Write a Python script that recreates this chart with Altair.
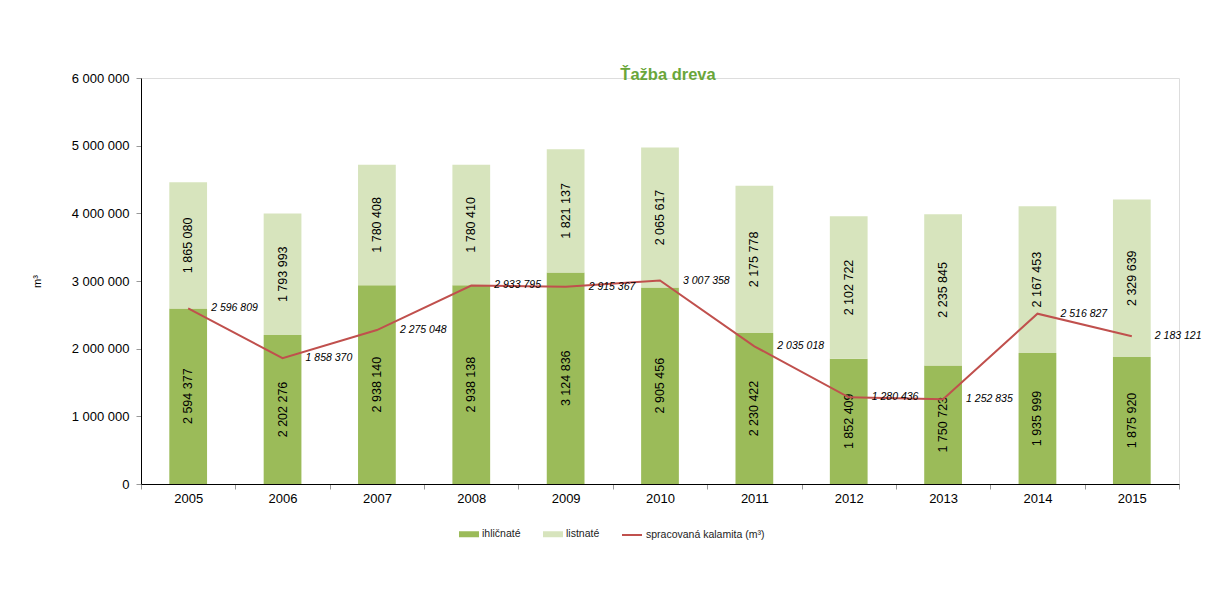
import altair as alt
import pandas as pd

years = ["2005", "2006", "2007", "2008", "2009", "2010", "2011", "2012", "2013", "2014", "2015"]
ihlicnate = [2594377, 2202276, 2938140, 2938138, 3124836, 2905456, 2230422, 1852409, 1750723, 1935999, 1875920]
listnate = [1865080, 1793993, 1780408, 1780410, 1821137, 2065617, 2175778, 2102722, 2235845, 2167453, 2329639]
kalamita = [2596809, 1858370, 2275048, 2933795, 2915367, 3007358, 2035018, 1280436, 1252835, 2516827, 2183121]

S_IHL = "ihličnaté"
S_LIST = "listnaté"
S_KAL = "spracovaná kalamita (m³)"

FONT = "Liberation Sans"

rows = []
for i, y in enumerate(years):
    rows.append({"year": y, "series": S_IHL, "value": ihlicnate[i], "order": 0})
    rows.append({"year": y, "series": S_LIST, "value": listnate[i], "order": 1})
bar_df = pd.DataFrame(rows)
line_df = pd.DataFrame({"year": years, "value": kalamita, "series": [S_KAL] * len(years)})

x_enc = alt.X(
    "year:O",
    title=None,
    scale=alt.Scale(paddingInner=0, paddingOuter=0),
    axis=alt.Axis(
        labelAngle=0, tickBand="extent", domainColor="black", tickColor="#999999",
        tickSize=5, labelPadding=3, labelFontSize=13, labelColor="black", labelFont=FONT,
    ),
)
y_scale = alt.Scale(domain=[0, 6000000], nice=False)

stacked = alt.Chart(bar_df).transform_stack(
    stack="value", groupby=["year"], as_=["v0", "v1"], sort=[alt.SortField("order")]
).transform_calculate(mid="(datum.v0 + datum.v1) / 2")

bars = stacked.mark_bar(width=alt.RelativeBandSize(0.4)).encode(
    x=x_enc,
    y=alt.Y(
        "v0:Q", scale=y_scale, title="m³",
        axis=alt.Axis(
            values=[0, 1000000, 2000000, 3000000, 4000000, 5000000, 6000000],
            format=",d", grid=False, domainColor="black", tickColor="#999999", tickSize=5,
            labelPadding=7, labelFontSize=13, labelColor="black", labelFont=FONT,
            titleFontSize=11, titleFontWeight="normal", titleFont=FONT, titleColor="black",
            titleX=-99, titleY=203, titleAngle=270,
        ),
    ),
    y2="v1:Q",
    fill=alt.Fill(
        "series:N",
        scale=alt.Scale(domain=[S_IHL, S_LIST], range=["#9BBB59", "#D7E4BD"]),
        legend=alt.Legend(
            title=None, orient="none", legendX=318, legendY=446, direction="horizontal",
            symbolType="M-1,-0.3L1,-0.3L1,0.3L-1,0.3Z", symbolSize=400, symbolStrokeWidth=0,
            labelFontSize=10.5, labelFont=FONT, labelColor="#222222", labelOffset=3,
            columnPadding=22,
        ),
    ),
)

bar_labels = stacked.mark_text(
    angle=270, align="center", baseline="middle", fontSize=12.5, font=FONT, color="black"
).encode(
    x=alt.X("year:O"),
    y=alt.Y("mid:Q", scale=y_scale),
    text=alt.Text("value:Q", format=",d"),
)

line = alt.Chart(line_df).mark_line(strokeWidth=2).encode(
    x=alt.X("year:O"),
    y=alt.Y("value:Q", scale=y_scale),
    stroke=alt.Stroke(
        "series:N",
        scale=alt.Scale(domain=[S_KAL], range=["#C0504D"]),
        legend=alt.Legend(
            title=None, orient="none", legendX=480, legendY=446, direction="horizontal",
            symbolType="stroke", symbolSize=400, symbolStrokeWidth=2,
            labelFontSize=10.5, labelFont=FONT, labelColor="#222222", labelOffset=3,
        ),
    ),
)

line_labels = alt.Chart(line_df).mark_text(
    align="left", baseline="middle", dx=23, fontSize=10.5, fontStyle="italic", font=FONT, color="black"
).encode(
    x=alt.X("year:O"),
    y=alt.Y("value:Q", scale=y_scale),
    text=alt.Text("value:Q", format=",d"),
)

chart = alt.layer(bars, bar_labels, line, line_labels).properties(
    width=1038,
    height=406,
    autosize=alt.AutoSizeParams(type="none"),
    padding={"left": 133, "top": 70, "right": 31, "bottom": 94},
    title=alt.TitleParams(
        "Ťažba dreva", fontSize=16.5, fontWeight="bold", color="#6AA63A", font=FONT,
        anchor="middle", baseline="alphabetic", offset=0, dx=8, dy=24,
    ),
).configure_view(stroke=None).configure(
    locale={"number": {"decimal": ",", "thousands": "\u00a0", "grouping": [3], "currency": ["", " €"]}}
)

chart.save("out.html", embed_options={"renderer": "svg", "actions": False})
